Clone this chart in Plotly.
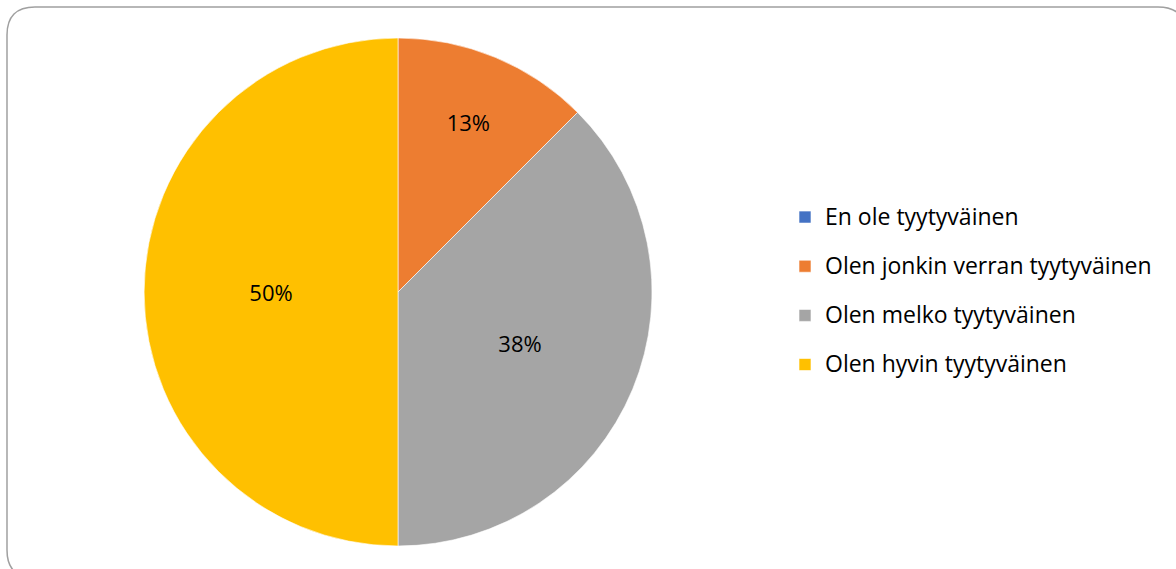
import plotly.graph_objects as go

# Survey answers and their share (1/8, 3/8, 4/8 of respondents)
labels = [
    "En ole tyytyväinen",
    "Olen jonkin verran tyytyväinen",
    "Olen melko tyytyväinen",
    "Olen hyvin tyytyväinen",
]
values = [0, 1, 3, 4]
colors = ["#4472C4", "#ED7D31", "#A5A5A5", "#FFC000"]

W, H = 1176, 569

# hide the label of empty slices
templates = ["%{percent:.0%}" if v > 0 else "" for v in values]

# legend rows are spaced wider than the text: big legend font, smaller text span
legend_labels = [
    f"<span style='font-size:23px;baseline-shift:6px'>{lab}</span>" for lab in labels
]

fig = go.Figure()
fig.add_trace(
    go.Pie(
        labels=legend_labels,
        values=values,
        sort=False,
        direction="clockwise",
        rotation=0,
        marker=dict(colors=colors, line=dict(color="white", width=0.6)),
        texttemplate=templates,
        textposition="inside",
        insidetextorientation="horizontal",
        textfont=dict(family="Open Sans", size=22, color="#000000"),
        hoverinfo="percent",
        domain=dict(x=[144 / W, 652 / W], y=[1 - 546 / H, 1 - 38 / H]),
    )
)


def px(x, y):
    return f"{x / W:.5f},{1 - y / H:.5f}"


# rounded chart border, partly running off the page like in the original
r = 28
x0, y0, x1, y1 = 7, 7, 1186, 578
border = (
    f"M {px(x0 + r, y0)} L {px(x1 - r, y0)} Q {px(x1, y0)} {px(x1, y0 + r)} "
    f"L {px(x1, y1 - r)} Q {px(x1, y1)} {px(x1 - r, y1)} "
    f"L {px(x0 + r, y1)} Q {px(x0, y1)} {px(x0, y1 - r)} "
    f"L {px(x0, y0 + r)} Q {px(x0, y0)} {px(x0 + r, y0)} Z"
)

fig.update_layout(
    width=W,
    height=H,
    margin=dict(l=0, r=0, t=0, b=0),
    paper_bgcolor="white",
    font=dict(family="Open Sans", color="#000000"),
    legend=dict(
        x=785 / W,
        y=1 - 291 / H,
        xanchor="left",
        yanchor="middle",
        font=dict(family="Open Sans", size=35.5, color="#000000"),
        bgcolor="rgba(0,0,0,0)",
    ),
    shapes=[
        dict(
            type="path",
            xref="paper",
            yref="paper",
            path=border,
            line=dict(color="#A0A0A0", width=1.5),
        )
    ],
)

# drop the browser's default page margin so the chart sits at the top-left corner
fig.write_html(
    "out.html",
    config={"displayModeBar": False},
    post_script="document.body.style.margin = '0px';",
)
